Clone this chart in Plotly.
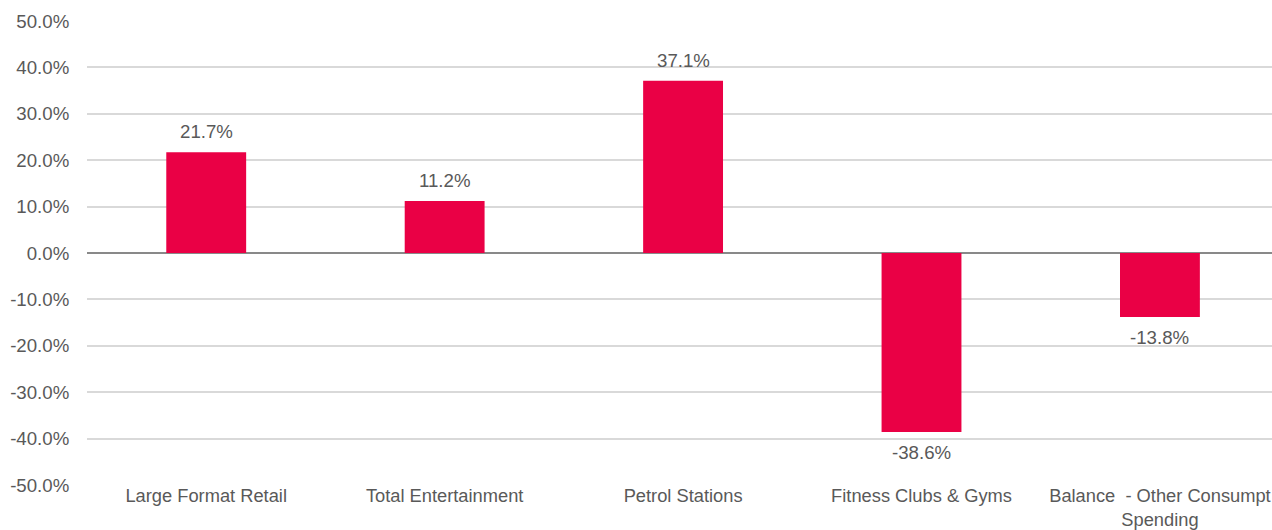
import plotly.graph_objects as go

categories = [
    "Large Format Retail",
    "Total Entertainment",
    "Petrol Stations",
    "Fitness Clubs & Gyms",
    "Balance  - Other Consumpt<br>Spending",
]
values = [21.7, 11.2, 37.1, -38.6, -13.8]
y_ticks = [50, 40, 30, 20, 10, 0, -10, -20, -30, -40, -50]

BAR_COLOR = "#EA0045"
TEXT_COLOR = "#595959"
FONT = "Liberation Sans, Arial, sans-serif"
FONT_SIZE = 18.67

fig = go.Figure(
    go.Bar(
        x=categories,
        y=values,
        marker=dict(color=BAR_COLOR, line=dict(width=0)),
        width=0.335,
        hoverinfo="skip",
    )
)

# value labels above positive bars and below negative ones
for cat, v in zip(categories, values):
    fig.add_annotation(
        x=cat,
        y=v,
        text=f"{v:.1f}%",
        showarrow=False,
        yanchor="bottom" if v >= 0 else "top",
        yshift=8 if v >= 0 else -8,
        font=dict(family=FONT, size=FONT_SIZE, color=TEXT_COLOR),
    )

fig.update_layout(
    width=1272,
    height=530,
    margin=dict(l=87, r=0, t=21, b=45),
    paper_bgcolor="white",
    plot_bgcolor="white",
    showlegend=False,
    font=dict(family=FONT, size=FONT_SIZE, color=TEXT_COLOR),
    bargap=0.665,
)

# the last category slot runs slightly past the right edge of the page
fig.update_xaxes(
    automargin=False,
    range=[-0.5, 4.47],
    showgrid=False,
    showline=False,
    zeroline=False,
    ticks="",
    ticklabelstandoff=-2,
    tickfont=dict(family=FONT, size=18.3, color=TEXT_COLOR),
)

fig.update_yaxes(
    automargin=False,
    range=[-50, 50],
    tickvals=y_ticks,
    ticktext=[f"{t:.1f}%" for t in y_ticks],
    showgrid=True,
    gridcolor="#D9D9D9",
    gridwidth=1.5,
    zeroline=True,
    zerolinecolor="#898989",
    zerolinewidth=1.5,
    showline=False,
    ticks="outside",
    ticklen=13,
    tickcolor="rgba(0,0,0,0)",
    tickfont=dict(family=FONT, size=FONT_SIZE, color=TEXT_COLOR),
)

fig.write_html("out.html")
